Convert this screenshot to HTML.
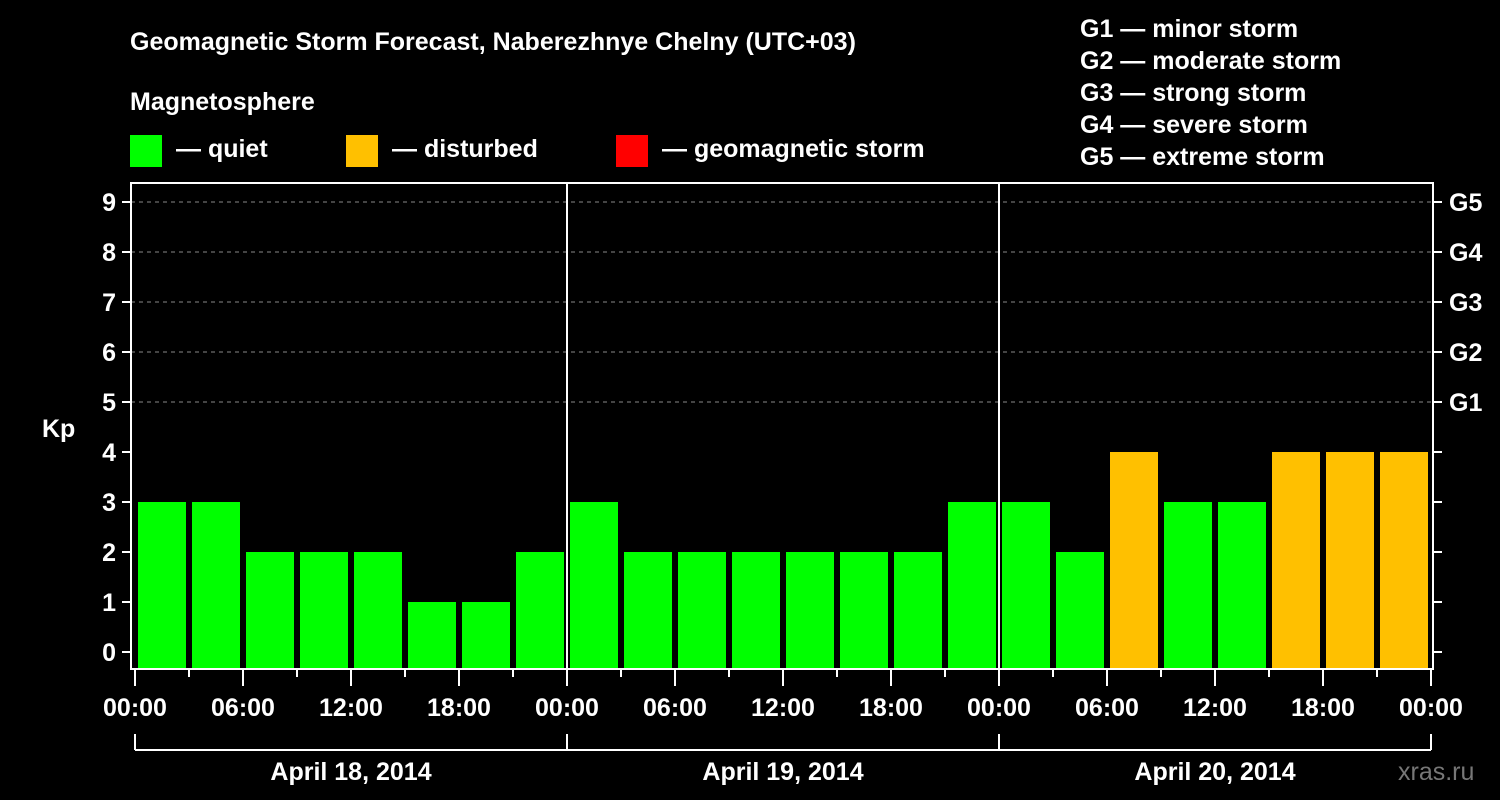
<!DOCTYPE html>
<html><head><meta charset="utf-8"><style>
html,body{margin:0;padding:0;background:#000;width:1500px;height:800px;overflow:hidden}
svg{display:block;font-family:"Liberation Sans",sans-serif;font-weight:bold}
</style></head><body>
<svg id="c" width="1500" height="800">
<text x="130" y="50" fill="#fff" font-size="25">Geomagnetic Storm Forecast, Naberezhnye Chelny (UTC+03)</text>
<text x="130" y="110" fill="#fff" font-size="25">Magnetosphere</text>
<g><rect x="130" y="135" width="32" height="32" fill="#00ff00"/><text x="176" y="157" fill="#fff" font-size="25">— quiet</text></g>
<g><rect x="346" y="135" width="32" height="32" fill="#ffc000"/><text x="392" y="157" fill="#fff" font-size="25">— disturbed</text></g>
<g><rect x="616" y="135" width="32" height="32" fill="#ff0000"/><text x="662" y="157" fill="#fff" font-size="25">— geomagnetic storm</text></g>
<g fill="#fff" font-size="25">
<text x="1080" y="37">G1 — minor storm</text><text x="1080" y="69">G2 — moderate storm</text><text x="1080" y="101">G3 — strong storm</text><text x="1080" y="133">G4 — severe storm</text><text x="1080" y="165">G5 — extreme storm</text>
</g>
<text x="42" y="437" fill="#fff" font-size="25">Kp</text>
<text x="1398" y="780" fill="#777" font-size="25" font-weight="normal">xras.ru</text>
<g id="plot"></g>
</svg>
<script>
const kpValues=[3,3,2,2,2,1,1,2, 3,2,2,2,2,2,2,3, 3,2,4,3,3,4,4,4];
const dayLabels=["April 18, 2014","April 19, 2014","April 20, 2014"];
const xTickLabels=["00:00","06:00","12:00","18:00"];
const gLabels=["G1","G2","G3","G4","G5"];
const NS="http://www.w3.org/2000/svg";
const g=document.getElementById('plot');
const X0=135,PX_H=18,Y0=652,PX_K=50,BOTTOM=668;
const xS=h=>X0+h*PX_H, yS=k=>Y0-k*PX_K;
function mk(t,a){const e=document.createElementNS(NS,t);for(const k in a)e.setAttribute(k,a[k]);g.appendChild(e);return e;}
// gridlines
for(let k=5;k<=9;k++){const l=mk('line',{x1:131,x2:1433,y1:yS(k),y2:yS(k),stroke:'#888','stroke-dasharray':'4,4','stroke-width':1});

}
// bars
kpValues.forEach((v,i)=>{const x=xS(i*3)+3;const r=mk('rect',{x:x,y:yS(v),width:48,height:BOTTOM-yS(v),fill:v>=5?'#ff0000':(v>=4?'#ffc000':'#00ff00')});

});
// day separators
for(let d=1;d<dayLabels.length;d++){const l=mk('line',{x1:xS(d*24),x2:xS(d*24),y1:183,y2:669,stroke:'#fff','stroke-width':2});

}
// frame
const f=mk('rect',{x:131,y:183,width:1302,height:486,fill:'none',stroke:'#fff','stroke-width':2});


// y ticks
for(let k=0;k<=9;k++){mk('line',{x1:122,x2:131,y1:yS(k),y2:yS(k),stroke:'#fff','stroke-width':2});mk('line',{x1:1433,x2:1442,y1:yS(k),y2:yS(k),stroke:'#fff','stroke-width':2});
const t=mk('text',{x:116,y:yS(k)+9,fill:'#fff','font-size':25,'text-anchor':'end'});t.textContent=k;

}
gLabels.forEach((s,i)=>{const t=mk('text',{x:1449,y:yS(5+i)+9,fill:'#fff','font-size':25});t.textContent=s;

});
// x ticks
for(let h=0;h<=72;h+=3){const major=h%6===0;mk('line',{x1:xS(h),x2:xS(h),y1:669,y2:major?686:677,stroke:'#fff','stroke-width':2});}
for(let h=0;h<=72;h+=6){const t=mk('text',{x:xS(h),y:716,fill:'#fff','font-size':25,'text-anchor':'middle'});t.textContent=xTickLabels[(h/6)%4];

}
// day bracket
mk('line',{x1:xS(0),x2:xS(72),y1:750,y2:750,stroke:'#fff','stroke-width':2});
for(let d=0;d<=dayLabels.length;d++)mk('line',{x1:xS(d*24),x2:xS(d*24),y1:734,y2:750,stroke:'#fff','stroke-width':2});
dayLabels.forEach((s,d)=>{const t=mk('text',{x:xS(d*24+12),y:780,fill:'#fff','font-size':25,'text-anchor':'middle'});t.textContent=s;

});
</script>
</body></html>
